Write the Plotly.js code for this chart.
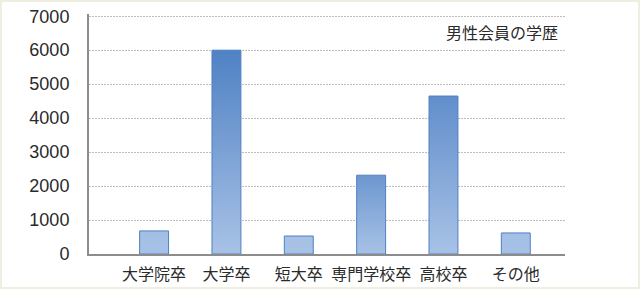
<!DOCTYPE html>
<html><head><meta charset="utf-8">
<script src="https://cdn.plot.ly/plotly-3.0.1.min.js"></script>
<style>
html,body{margin:0;padding:0;background:#fff;}
#wrap{position:relative;width:640px;height:289px;}
#chart{width:640px;height:289px;}
#frame{position:absolute;left:0;top:0;width:640px;height:289px;box-sizing:border-box;border:2px solid #efefe0;pointer-events:none;}
</style></head>
<body>
<svg width="0" height="0" style="position:absolute">
  <defs id="gdefs"></defs>
</svg>
<div id="wrap"><div id="chart"></div><div id="frame"></div></div>
<script>
const categories = ["大学院卒", "大学卒", "短大卒", "専門学校卒", "高校卒", "その他"];
const values = [680, 6000, 530, 2320, 4650, 620];
const yTicks = [0, 1000, 2000, 3000, 4000, 5000, 6000, 7000];
const chartTitle = "男性会員の学歴";

const FONT = '"Noto Sans CJK JP", "Noto Sans", sans-serif';
const NUMFONT = '"Liberation Sans", Arial, sans-serif';

const trace = {
  type: 'bar',
  x: categories,
  y: values,
  width: 0.4,
  marker: { color: '#a6c0e4', line: { color: '#4f81c4', width: 1 } },
  hoverinfo: 'none'
};

const layout = {
  width: 640, height: 289,
  margin: { l: 89, r: 75, t: 14, b: 35, pad: 0 },
  paper_bgcolor: '#ffffff',
  plot_bgcolor: '#ffffff',
  showlegend: false,
  font: { family: FONT, color: '#333333' },
  xaxis: {
    type: 'category',
    range: [-0.9, 5.68],
    showline: true, linecolor: '#8c8c8c', linewidth: 2,
    showgrid: false, zeroline: false, ticks: '',
    tickfont: { family: FONT, size: 16, color: '#2a2a2a' },
    ticklabelstandoff: 5
  },
  yaxis: {
    range: [0, 7065],
    tickvals: yTicks,
    ticktext: yTicks.map(String),
    showline: true, linecolor: '#8c8c8c', linewidth: 2,
    showgrid: true, gridcolor: '#bdbdbd', gridwidth: 1, griddash: '2px,1px',
    zeroline: false, ticks: '',
    tickfont: { family: NUMFONT, size: 18, color: '#2a2a2a' },
    ticklabelstandoff: 14
  },
  annotations: [{
    text: chartTitle, xref: 'paper', yref: 'paper',
    x: 0.989, y: 0.925, xanchor: 'right', yanchor: 'middle',
    showarrow: false, font: { family: FONT, size: 16, color: '#2a2a2a' }
  }]
};

function mix(a, b, t) {
  const pa = [1,3,5].map(i => parseInt(a.substr(i,2),16));
  const pb = [1,3,5].map(i => parseInt(b.substr(i,2),16));
  return 'rgb(' + pa.map((v,i) => Math.round(v + (pb[i]-v)*t)).join(',') + ')';
}
function clamp01(x) { return Math.min(1, Math.max(0, x)); }

function applyGradients(gd) {
  const NS = 'http://www.w3.org/2000/svg';
  const defs = document.getElementById('gdefs');
  const paths = gd.querySelectorAll('g.trace.bars path');
  const light = '#a8c2e6', dark = '#4f81c4';
  paths.forEach((p, i) => {
    const v = values[i];
    const f = clamp01((v - 500) / 2200) * 0.8 + clamp01((v - 4700) / 1300) * 0.2;
    const id = 'bargrad' + i;
    let g = document.getElementById(id);
    if (!g) {
      g = document.createElementNS(NS, 'linearGradient');
      g.setAttribute('id', id);
      g.setAttribute('x1', '0'); g.setAttribute('y1', '0');
      g.setAttribute('x2', '0'); g.setAttribute('y2', '1');
      const s1 = document.createElementNS(NS, 'stop');
      s1.setAttribute('offset', '0'); s1.setAttribute('stop-color', mix(light, dark, f));
      const s2 = document.createElementNS(NS, 'stop');
      s2.setAttribute('offset', '1'); s2.setAttribute('stop-color', light);
      g.appendChild(s1); g.appendChild(s2);
      defs.appendChild(g);
    }
    p.style.setProperty('fill', 'url(#' + id + ')', 'important');
    p.setAttribute('fill', 'url(#' + id + ')');
  });
}

const gd = document.getElementById('chart');
Plotly.newPlot(gd, [trace], layout, { displayModeBar: false, staticPlot: true });
applyGradients(gd);
if (gd.on) gd.on('plotly_afterplot', () => applyGradients(gd));
</script>
</body></html>
